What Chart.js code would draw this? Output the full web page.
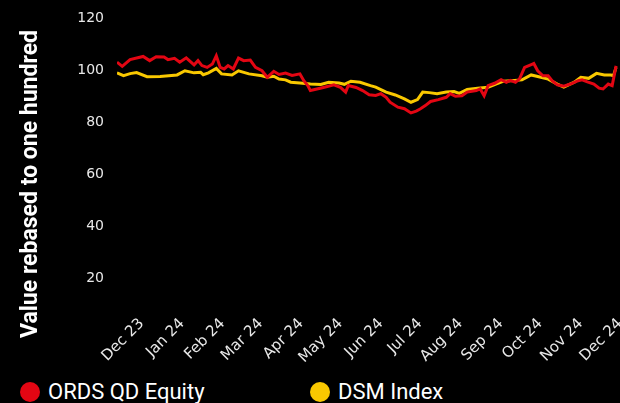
<!DOCTYPE html>
<html>
<head>
<meta charset="utf-8">
<script src="https://cdn.jsdelivr.net/npm/chart.js@4.4.1/dist/chart.umd.min.js"></script>
<style>
  html, body { margin: 0; padding: 0; background: #000; }
  #wrap { position: relative; width: 620px; height: 403px; overflow: hidden; background: #000; }
  #chartBox { position: absolute; left: 0; top: 0; width: 620px; height: 372px; }
  #legend { position: absolute; left: 0; top: 380px; width: 620px; height: 23px; font: 22px Roboto, sans-serif; color: #fff; }
  .item { position: absolute; top: 0; display: flex; align-items: center; height: 23px; white-space: nowrap; }
  .dot { width: 20px; height: 20px; border-radius: 50%; margin-right: 8px; }
</style>
</head>
<body>
<div id="wrap">
  <div id="chartBox"><canvas id="chart"></canvas></div>
  <div id="legend"></div>
</div>
<script>
// days counted from 12 Nov 2023
const monthTickDays = [19, 50, 81, 110, 141, 171, 202, 232, 263, 294, 324, 355, 385];
const monthLabels = ["Dec 23", "Jan 24", "Feb 24", "Mar 24", "Apr 24", "May 24", "Jun 24",
  "Jul 24", "Aug 24", "Sep 24", "Oct 24", "Nov 24", "Dec 24"];
const yTickValues = [20, 40, 60, 80, 100, 120];
const yTitle = "Value rebased to one hundred";

const ordsDays = [0, 4, 10, 20, 25, 30, 36, 39, 44, 48, 53, 59, 62, 65, 69, 73, 76, 79, 82, 85,
  89, 93, 97, 102, 106, 111, 115, 120, 124, 129, 134, 140, 143, 146, 148, 153, 158, 166, 171, 175,
  177, 183, 188, 193, 198, 202, 206, 209, 215, 220, 225, 229, 232, 236, 240, 246, 252, 255, 259, 264,
  268, 275, 278, 281, 284, 289, 294, 298, 301, 305, 308, 312, 318, 319, 322, 326, 330, 333, 337, 342,
  347, 353, 356, 360, 365, 369, 372, 376, 379, 382];
const ordsValues = [103, 101.4, 104, 105.2, 103.6, 105.1, 105, 104, 104.5, 103, 104.7, 102, 103.6, 101.7, 101, 102.3, 105.5, 101, 100.4, 101.7,
  100.4, 104.6, 103.6, 103.8, 101, 99.7, 97.2, 99.5, 98.3, 98.8, 97.9, 98.5, 95.9, 94, 92.1, 92.7, 93.3, 94.3, 93.3, 91.5,
  94, 93.3, 92.1, 90.5, 90.2, 90.9, 89.5, 87.6, 85.7, 85.1, 83.5, 84.2, 85, 86.3, 87.9, 88.6, 89.5, 90.9, 89.9, 90.1,
  91.5, 92.1, 92.7, 90.1, 94, 94.9, 96.3, 95.3, 96, 95.3, 96.5, 101, 102.3, 102.5, 99.7, 97.8, 97.8, 95.9, 94.3, 93.8,
  94.6, 95.9, 96.2, 95.4, 94.6, 93, 92.7, 94.6, 94, 101.6];

const dsmDays = [0, 5, 10, 15, 23, 33, 46, 52, 59, 64, 66, 70, 76, 80, 88, 93, 101, 111, 115, 120,
  124, 129, 133, 140, 148, 156, 162, 170, 174, 179, 186, 194, 198, 206, 213, 220, 225, 230, 234, 239,
  245, 252, 258, 262, 268, 276, 284, 290, 296, 304, 310, 317, 322, 330, 337, 342, 350, 355, 361, 367,
  373, 378, 380, 382];
const dsmValues = [98.9, 97.8, 98.6, 99, 97.4, 97.5, 98.1, 99.7, 98.9, 99.1, 98.2, 98.9, 100.6, 98.5, 98.1, 99.7, 98.5, 97.8, 97.2, 97.6,
  96.5, 96.2, 95.3, 95, 94.6, 94.4, 95.3, 95, 94.5, 95.7, 95.3, 94, 93.4, 91.5, 90.4, 88.9, 87.6, 88.6, 91.5, 91.3,
  90.9, 91.5, 91.7, 91, 92.5, 93, 93.4, 94.6, 95.7, 96, 96.2, 98.1, 97.5, 96.5, 94.6, 93.4, 95.3, 97.2, 96.8, 98.7,
  98.1, 98.1, 97.8, 101];

const seriesNames = ["ORDS QD Equity", "DSM Index"];
const seriesColors = ["#e30613", "#f9c800"];

const toPoints = (days, values) => days.map((d, i) => ({ x: d, y: values[i] }));

// y title drawn by hand so it can sit lower than the axis centre, like the original
const yTitlePlugin = {
  id: "yTitle",
  afterDraw(chart) {
    const ctx = chart.ctx;
    ctx.save();
    ctx.translate(31, 184);
    ctx.rotate(-Math.PI / 2);
    ctx.fillStyle = "#ffffff";
    ctx.font = "bold 23px Roboto";
    ctx.textAlign = "center";
    ctx.textBaseline = "middle";
    ctx.fillText(yTitle, 0, 0);
    ctx.restore();
  }
};

const chart = new Chart(document.getElementById("chart"), {
  type: "line",
  data: {
    datasets: [
      { label: seriesNames[0], data: toPoints(ordsDays, ordsValues), borderColor: seriesColors[0], borderWidth: 3, pointRadius: 0, tension: 0 },
      { label: seriesNames[1], data: toPoints(dsmDays, dsmValues), borderColor: seriesColors[1], borderWidth: 3, pointRadius: 0, tension: 0 }
    ]
  },
  options: {
    responsive: true,
    maintainAspectRatio: false,
    animation: false,
    layout: { padding: { left: 16, right: 0, top: 18, bottom: 0 } },
    plugins: { legend: { display: false }, tooltip: { enabled: false } },
    scales: {
      x: {
        type: "linear",
        min: 0,
        max: 385,
        grid: { display: false, drawTicks: false },
        border: { display: false },
        afterBuildTicks: s => { s.ticks = monthTickDays.map(v => ({ value: v })); },
        afterFit: s => { s.height = 55; s.paddingLeft = 0; s.paddingRight = 0; },
        ticks: {
          autoSkip: false,
          minRotation: 45,
          maxRotation: 45,
          padding: -2,
          color: "#e8e8e8",
          font: { family: "DejaVu Sans", size: 15 },
          callback: v => monthLabels[monthTickDays.indexOf(v)]
        }
      },
      y: {
        min: 5,
        max: 120,
        grid: { display: false, drawTicks: false },
        border: { display: false },
        afterBuildTicks: s => { s.ticks = yTickValues.map(v => ({ value: v })); },
        afterFit: s => { s.width = 101; s.paddingTop = 0; s.paddingBottom = 0; },
        ticks: { padding: 13, color: "#e8e8e8", font: { family: "DejaVu Sans", size: 14 } }
      }
    }
  },
  plugins: [yTitlePlugin]
});

// legend in the page, from the chart's datasets
const legendEl = document.getElementById("legend");
const legendLefts = [20, 310];
chart.data.datasets.forEach((ds, i) => {
  const item = document.createElement("div");
  item.className = "item";
  item.style.left = legendLefts[i] + "px";
  item.innerHTML = `<span class="dot" style="background:${ds.borderColor}"></span>${ds.label}`;
  legendEl.appendChild(item);
});
</script>
</body>
</html>
